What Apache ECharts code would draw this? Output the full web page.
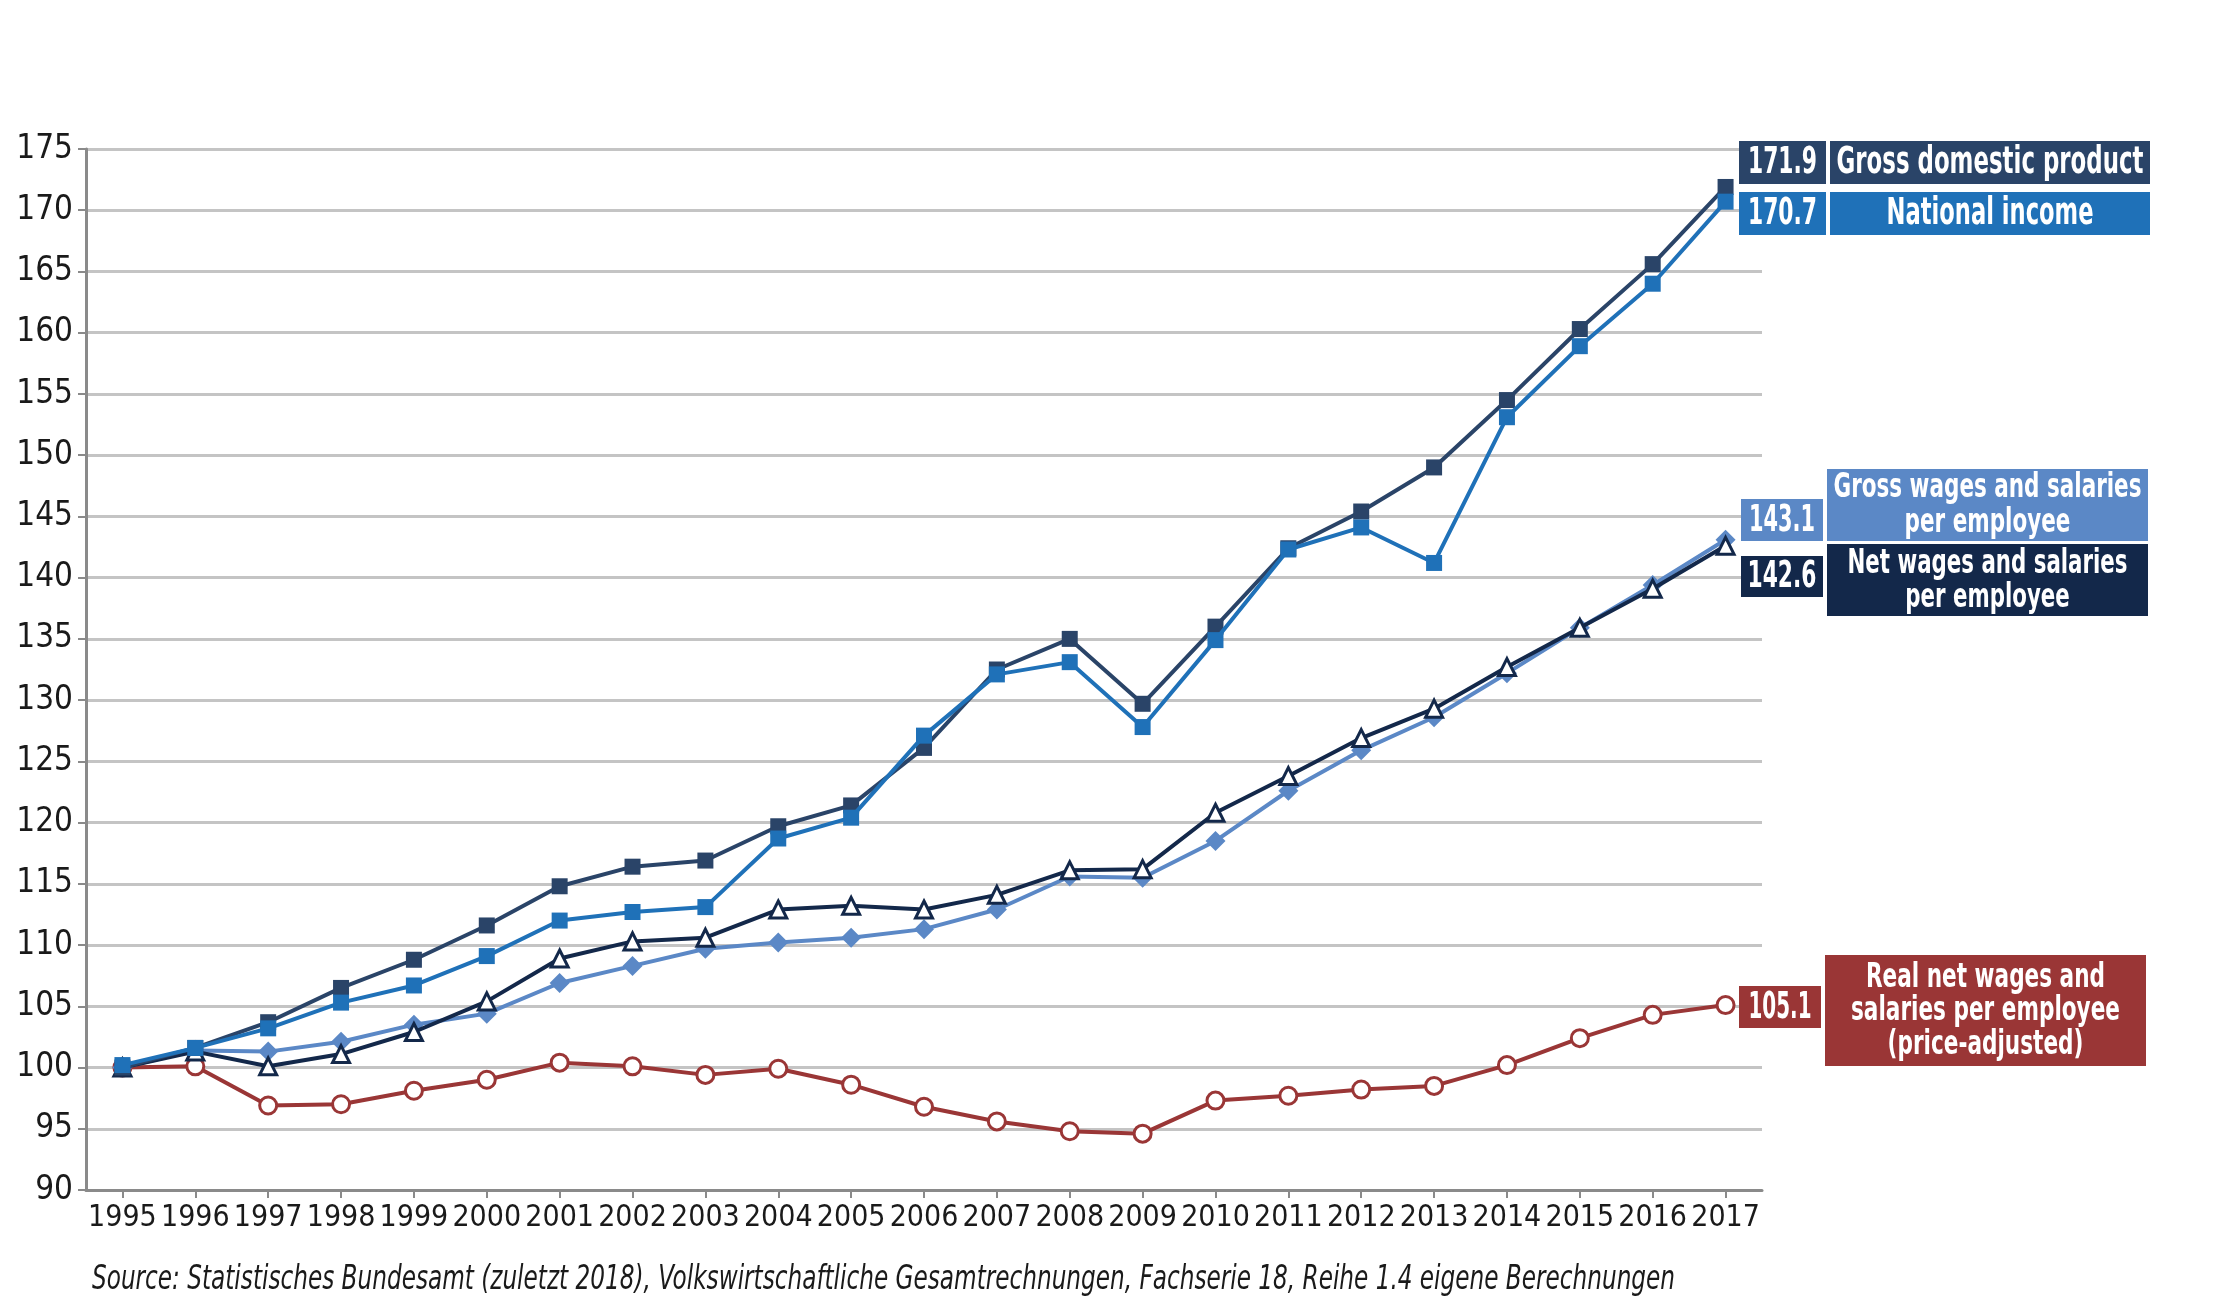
<!DOCTYPE html>
<html>
<head>
<meta charset="utf-8">
<style>
html,body{margin:0;padding:0;background:#fff;}
#chart{width:2222px;height:1316px;}
</style>
<script src="https://cdn.jsdelivr.net/npm/echarts@6/dist/echarts.min.js"></script>
</head>
<body>
<div id="chart"></div>
<script>
const years = ['1995','1996','1997','1998','1999','2000','2001','2002','2003','2004','2005','2006','2007','2008','2009','2010','2011','2012','2013','2014','2015','2016','2017'];
const gdp   = [100.0,101.6,103.7,106.5,108.8,111.6,114.8,116.4,116.9,119.7,121.4,126.1,132.5,135.0,129.7,136.0,142.4,145.4,149.0,154.5,160.3,165.6,171.9];
const ni    = [100.2,101.6,103.2,105.3,106.7,109.1,112.0,112.7,113.1,118.7,120.4,127.1,132.1,133.1,127.8,134.9,142.3,144.1,141.2,153.1,158.9,164.0,170.7];
const gross = [100.0,101.4,101.3,102.1,103.5,104.4,106.9,108.3,109.7,110.2,110.6,111.3,112.9,115.6,115.5,118.5,122.6,125.9,128.6,132.2,135.9,139.4,143.1];
const net   = [100.0,101.3,100.1,101.1,102.9,105.4,108.9,110.3,110.6,112.9,113.2,112.9,114.1,116.1,116.2,120.8,123.8,126.9,129.3,132.7,135.9,139.1,142.6];
const real  = [100.0,100.1,96.9,97.0,98.1,99.0,100.4,100.1,99.4,99.9,98.6,96.8,95.6,94.8,94.6,97.3,97.7,98.2,98.5,100.2,102.4,104.3,105.1];
const yTicks = [90,95,100,105,110,115,120,125,130,135,140,145,150,155,160,165,170,175];
const seriesNames = ['Gross domestic product','National income','Gross wages and salaries\nper employee','Net wages and salaries\nper employee','Real net wages and\nsalaries per employee\n(price-adjusted)'];
const sourceText = 'Source: Statistisches Bundesamt (zuletzt 2018), Volkswirtschaftliche Gesamtrechnungen, Fachserie 18, Reihe 1.4 eigene Berechnungen';

const FONT = "'DejaVu Sans Condensed','Liberation Sans Narrow',sans-serif";
const C = {gdp:'#2a4468', ni:'#1f71b8', gross:'#5b88c6', net:'#13284a', real:'#9a3636'};

const measureCtx = document.createElement('canvas').getContext('2d');
function fit(text, font, target) {
  measureCtx.font = font;
  const w = Math.max.apply(null, text.split('\n').map(l => measureCtx.measureText(l).width));
  return target / w;
}

const chart = echarts.init(document.getElementById('chart'));

function box(x, y, w, h, color, text, fs, lh, textW, dy) {
  const font = 'bold ' + fs + 'px ' + FONT;
  return [
    {type:'rect', shape:{x:x, y:y, width:w, height:h}, style:{fill:color}, z:100},
    {type:'text', x:x + w/2, y:y + h/2 + (dy || 0), z:101, scaleX: fit(text, font, textW), scaleY: 1,
      style:{text:text, fill:'#fff', font:font, align:'center', verticalAlign:'middle', lineHeight:lh}}
  ];
}

const srcFont = 'italic 34px ' + FONT;
const graphics = [].concat(
  box(1739,141,87,43,C.gdp, gdp[gdp.length-1].toFixed(1), 37, 37, 69, 1),
  box(1830,141,320,43,C.gdp, seriesNames[0], 37, 37, 307, 1),
  box(1739,192,87,43,C.ni, ni[ni.length-1].toFixed(1), 37, 37, 69, 1),
  box(1830,192,320,43,C.ni, seriesNames[1], 37, 37, 207, 1),
  box(1741,499,82,42,C.gross, gross[gross.length-1].toFixed(1), 37, 37, 66, 1),
  box(1827,469,321,72,C.gross, seriesNames[2], 34, 35, 308, 1),
  box(1741,556,82,41,C.net, net[net.length-1].toFixed(1), 37, 37, 69, 1),
  box(1827,544,321,72,C.net, seriesNames[3], 34, 34, 280, 1),
  box(1739,986,82,42,C.real, real[real.length-1].toFixed(1), 37, 37, 63, 1),
  box(1825,955,321,111,C.real, seriesNames[4], 34, 33.5, 269, 1),
  [{type:'text', x:92, y:1280, scaleX: fit(sourceText, srcFont, 1583), scaleY:1,
    style:{text:sourceText, fill:'#1a1a1a', font:srcFont, verticalAlign:'middle'}}]
);

function lineSeries(name, data, color, symbol, size, hollow, z) {
  return {
    name:name, type:'line', data:data, z:z,
    symbol:symbol, symbolSize:size, showAllSymbol:true,
    lineStyle:{color:color, width:4},
    itemStyle:{color: hollow ? '#fff' : color, borderColor:color, borderWidth: hollow ? 3 : 0, opacity:1},
    emphasis:{disabled:true}, animation:false
  };
}

chart.setOption({
  animation:false,
  backgroundColor:'#fff',
  grid:{left:86, right:460, top:149, bottom:126, containLabel:false},
  xAxis:{
    type:'category', data:years, boundaryGap:true,
    axisLine:{lineStyle:{color:'#8a8a8a', width:3}},
    axisTick:{show:true, alignWithLabel:true, length:8, lineStyle:{color:'#8a8a8a', width:2}},
    axisLabel:{color:'#1a1a1a', fontFamily:FONT, fontSize:30, margin:13, interval:0}
  },
  yAxis:{
    type:'value', min:yTicks[0], max:yTicks[yTicks.length-1], interval:5,
    axisLine:{show:true, lineStyle:{color:'#8a8a8a', width:3}},
    axisTick:{show:true, length:8, lineStyle:{color:'#8a8a8a', width:2}},
    axisLabel:{color:'#1a1a1a', fontFamily:FONT, fontSize:33, margin:13},
    splitLine:{show:true, lineStyle:{color:'#c4c4c4', width:3}}
  },
  series:[
    lineSeries('Real', real, C.real, 'circle', 17, true, 2),
    lineSeries('Gross wages', gross, C.gross, 'diamond', 20, false, 3),
    lineSeries('Net wages', net, C.net, 'triangle', 17, true, 4),
    lineSeries('GDP', gdp, C.gdp, 'rect', 16, false, 5),
    lineSeries('National income', ni, C.ni, 'rect', 16, false, 6)
  ],
  graphic:graphics
});
</script>
</body>
</html>
